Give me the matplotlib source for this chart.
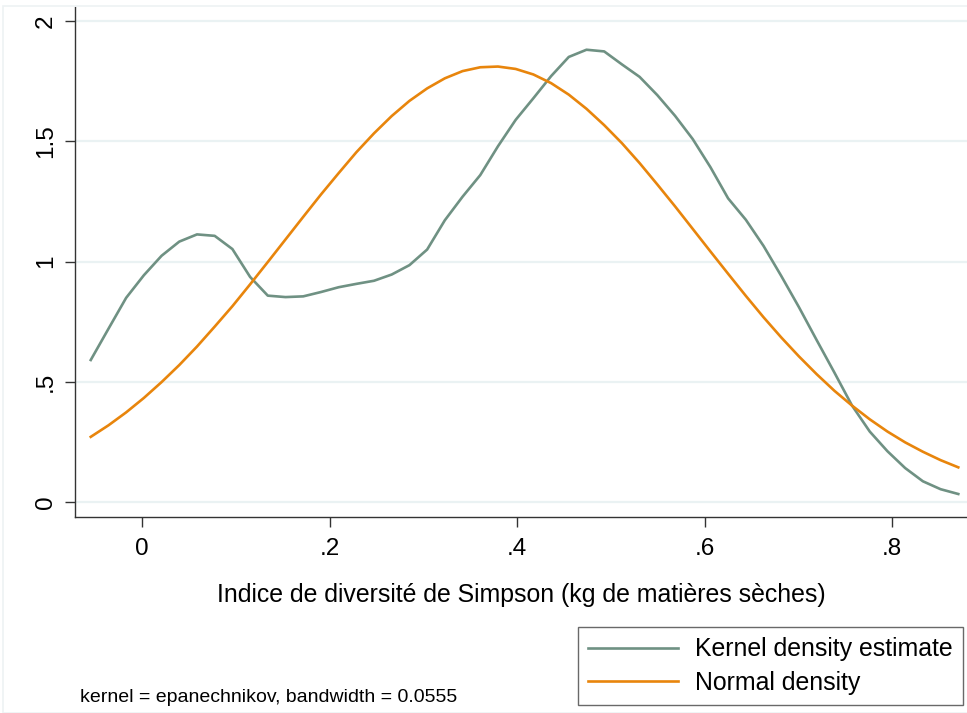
"""
Kernel density of the Simpson diversity index with normal overlay (Stata style).
"""

import matplotlib
matplotlib.use("Agg")
import matplotlib.pyplot as plt
from matplotlib.patches import Rectangle

# evaluation points (50, from min to max of the index)
x_start = -0.055
x_step = 0.018886
n_points = 50
grid = [x_start + i * x_step for i in range(n_points)]

kernel_density = [
    0.590, 0.720, 0.849, 0.943, 1.024, 1.083, 1.113, 1.107, 1.052, 0.936,
    0.858, 0.852, 0.855, 0.873, 0.893, 0.907, 0.920, 0.946, 0.985, 1.050,
    1.172, 1.270, 1.360, 1.480, 1.590, 1.680, 1.772, 1.852, 1.882, 1.875,
    1.821, 1.769, 1.693, 1.607, 1.510, 1.393, 1.263, 1.174, 1.065, 0.940,
    0.810, 0.673, 0.538, 0.400, 0.292, 0.210, 0.140, 0.085, 0.052, 0.032,
]

normal_density = [
    0.270, 0.318, 0.372, 0.432, 0.498, 0.569, 0.646, 0.729, 0.814, 0.905,
    0.998, 1.092, 1.186, 1.279, 1.368, 1.455, 1.534, 1.606, 1.669, 1.721,
    1.763, 1.793, 1.809, 1.812, 1.802, 1.779, 1.743, 1.695, 1.636, 1.568,
    1.493, 1.410, 1.321, 1.230, 1.136, 1.042, 0.949, 0.857, 0.768, 0.684,
    0.605, 0.531, 0.462, 0.400, 0.343, 0.292, 0.247, 0.208, 0.173, 0.143,
]

x_ticks = [0, 0.2, 0.4, 0.6, 0.8]
x_tick_labels = ["0", ".2", ".4", ".6", ".8"]
y_ticks = [0, 0.5, 1, 1.5, 2]
y_tick_labels = ["0", ".5", "1", "1.5", "2"]

GREEN = "#6f9183"
ORANGE = "#e8850c"
GRID = "#eaf2f3"
AXIS = "#333333"

plt.rcParams["font.family"] = ["Liberation Sans", "DejaVu Sans"]

W, H = 967, 713
fig = plt.figure(figsize=(W / 100, H / 100), dpi=100)
fig.patch.set_facecolor("white")

# faint outer border of the graph region
fig.add_artist(Rectangle((3 / W, 0), 1.0, 1 - 6 / H, transform=fig.transFigure,
                         fill=False, edgecolor="#eef2f4", linewidth=1.2))

ax = fig.add_axes([75 / W, 1 - 516.7 / H, (W - 75) / W, (516.7 - 6.7) / H])
ax.set_facecolor("white")

ax.plot(grid, kernel_density, color=GREEN, linewidth=1.9,
        label="Kernel density estimate", zorder=3)
ax.plot(grid, normal_density, color=ORANGE, linewidth=1.9,
        label="Normal density", zorder=3)

ax.set_xlim(-0.0718, 0.8797)
ax.set_ylim(-0.0625, 2.0612)

ax.set_xticks(x_ticks)
ax.set_xticklabels(x_tick_labels, fontsize=17.5)
ax.set_yticks(y_ticks)
ax.set_yticklabels(y_tick_labels, fontsize=17.5, rotation=90, va="center")

ax.grid(axis="y", color=GRID, linewidth=1.6, zorder=0)
ax.set_axisbelow(True)

for side in ["top", "right"]:
    ax.spines[side].set_visible(False)
for side in ["left", "bottom"]:
    ax.spines[side].set_color(AXIS)
    ax.spines[side].set_linewidth(1.0)

ax.tick_params(axis="both", direction="out", length=7, width=1.0,
               color=AXIS)
ax.tick_params(axis="x", pad=8)
ax.tick_params(axis="y", pad=6)

ax.set_xlabel("Indice de diversité de Simpson (kg de matières sèches)",
              fontsize=17.9, labelpad=17)

leg = fig.legend(loc="upper left", bbox_to_anchor=(578 / W, 1 - 627 / H),
                 fontsize=17.9, frameon=True, fancybox=False,
                 edgecolor="#444444", handlelength=3.6, handletextpad=0.7,
                 borderpad=0.42, labelspacing=0.38, borderaxespad=0)
leg.get_frame().set_linewidth(1.0)

fig.text(80 / W, 1 - 697 / H, "kernel = epanechnikov, bandwidth = 0.0555",
         fontsize=14, va="center", ha="left")

plt.savefig("out.png", dpi=100)
